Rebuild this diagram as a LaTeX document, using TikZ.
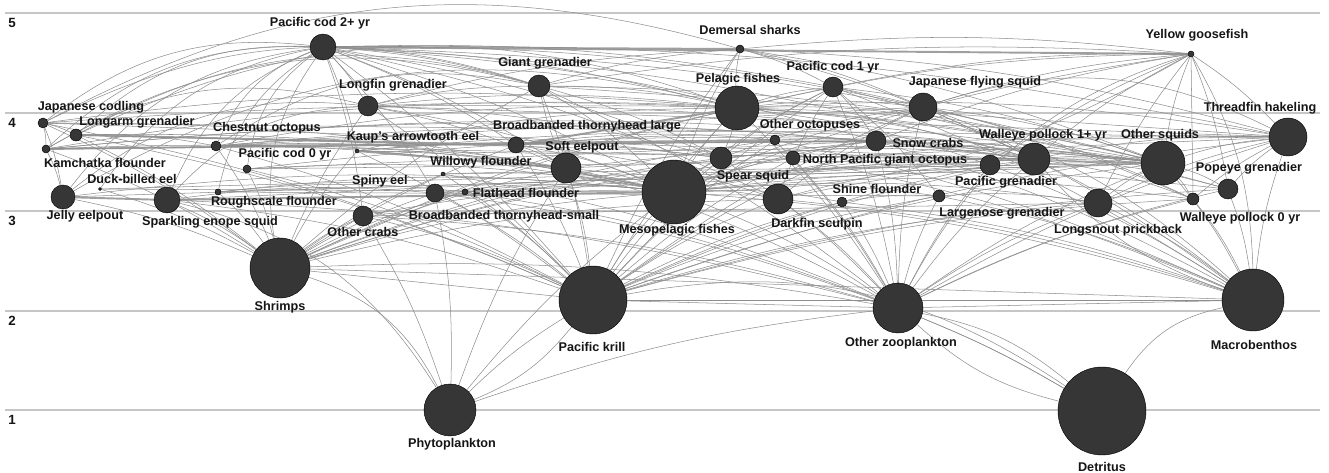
\documentclass[tikz,border=0pt]{standalone}
\usepackage{fontspec}
\setmainfont{Liberation Sans}
\pgfdeclarelayer{bg}
\pgfsetlayers{bg,main}
\definecolor{nodefill}{HTML}{363636}
\definecolor{edgec}{HTML}{8E8E8E}
\definecolor{gridc}{HTML}{C6C6C6}
\definecolor{txt}{HTML}{151515}
\tikzset{
  nd/.style={circle,fill=nodefill,draw=black,line width=0.25pt,inner sep=0pt},
  lb/.style={inner sep=0pt,text=txt,font=\fontsize{7.2}{8.6}\selectfont\bfseries},
  edge/.style={draw=edgec,line width=0.3pt},
  band/.style={draw=edgec!85,line width=1.1pt},
  gridline/.style={draw=gridc,line width=0.8pt},
}
\begin{document}
\begin{tikzpicture}[x=0.02cm,y=-0.02cm]
\useasboundingbox (0,0) rectangle (1329,473);
% nodes
\foreach \n/\x/\y/\r in {
 cod2/323/47/13, shark/740/49/4, goose/1191/54/3, giant/539/86/11, cod1/833/87/10,
 longfin/368/106/10, pelagic/737/108/22, jfsquid/923/107/14, jcod/43/123/5,
 longarm/76/135/6, thread/1288/137/19, chest/216/146/5, bbl/516/145/8,
 ooct/775/140/5, snow/876/141/10, kamch/46/149/4, kaup/357/151/2, npgo/793/158/7,
 spear/721/158/11, wp1/1034/159/16, osq/1163/163/22, pgren/990/165/10,
 soft/566/168/15, pcod0/247/169/4, willowy/443/174/2, popeye/1228/189/10,
 duck/100/189/1.5, rough/218/192/3, flat/465/192/3, bbs/435/193/9,
 meso/674/192/32, largen/939/196/6, jelly/63/197/12, sparkling/167/200/13,
 dark/778/199/15, wp0/1193/199/6, shine/842/202/5, longsnout/1098/203/14,
 crabs/363/216/10, shrimps/280/268/30, krill/593/300/34, ozoo/898/308/25,
 macro/1253/300/31, phyto/450/410/26, detritus/1102/411/44}
 \node[nd,minimum size=\r*0.4mm] (\n) at (\x,\y) {};
% labels
\foreach \n/\x/\y/\t in {
 cod2/320/23/Pacific cod 2+ yr, shark/750/30/Demersal sharks, goose/1197/35/Yellow goosefish,
 giant/545/63/Giant grenadier, cod1/833/67/Pacific cod 1 yr, longfin/393/85/Longfin grenadier,
 pelagic/738/79/Pelagic fishes, jfsquid/975/82/Japanese flying squid, jcod/91/107/Japanese codling,
 longarm/137/122/Longarm grenadier, thread/1260/108/Threadfin hakeling, chest/267/128/Chestnut octopus,
 kaup/413/137/Kaup's arrowtooth eel, bbl/587/126/Broadbanded thornyhead large,
 ooct/810/125/Other octopuses, snow/928/143/Snow crabs, wp1/1043/135/Walleye pollock 1+ yr,
 osq/1160/135/Other squids, kamch/105/163/Kamchatka flounder, pcod0/285/154/Pacific cod 0 yr,
 soft/582/147/Soft eelpout, npgo/885/160/North Pacific giant octopus, willowy/481/162/Willowy flounder,
 spear/753/176/Spear squid, pgren/1006/182/Pacific grenadier, popeye/1249/168/Popeye grenadier,
 duck/132/179/Duck-billed eel, spiny/380/181/Spiny eel, shine/877/189/Shine flounder,
 rough/274/202/Roughscale flounder, flat/526/193/Flathead flounder, largen/1002/213/Largenose grenadier,
 bbs/504/216/Broadbanded thornyhead-small, wp0/1240/218/Walleye pollock 0 yr, jelly/85/216/Jelly eelpout,
 sparkling/210/222/Sparkling enope squid, dark/817/224/Darkfin sculpin, meso/677/230/Mesopelagic fishes,
 longsnout/1118/230/Longsnout prickback, crabs/363/232/Other crabs, shrimps/280/307/Shrimps,
 krill/592/347/Pacific krill, ozoo/901/343/Other zooplankton, macro/1254/345/Macrobenthos,
 phyto/452/444/Phytoplankton, detritus/1102/467/Detritus}
 \node[lb] (L\n) at (\x,\y) {\t};
% trophic level axis
\foreach \v/\y in {5/13,4/113,3/211,2/311,1/410}
 \node[lb,font=\fontsize{7.6}{9}\selectfont\bfseries] (T\v) at (12,\y+10) {\v};
\begin{pgfonlayer}{bg}
\foreach \v/\y in {5/13,4/113,3/211,2/311,1/410}
 \draw[gridline] (5,\y) coordinate (G\v a) -- (1320,\y) coordinate (G\v b);
% thick bands
\foreach \a/\b in {cod2/goose, kamch/ooct, sparkling/meso, chest/snow, jelly/sparkling, cod2/shark, bbl/pelagic, kaup/soft, longarm/bbl}
 \draw[band] (\a) -- (\b);
% straight lines
\foreach \a/\b in {shrimps/krill, shrimps/macro, krill/ozoo, krill/macro, ozoo/macro, duck/meso, jcod/wp1, longarm/osq, goose/wp0,
 jcod/thread, kamch/thread, chest/osq, pcod0/wp1, jelly/osq, sparkling/wp1, rough/osq, duck/pgren, kaup/wp1, longfin/thread,
 giant/thread, willowy/osq, flat/wp1, bbs/osq, soft/thread, crabs/longsnout, rough/largen, pcod0/snow, chest/jfsquid}
 \draw[edge] (\a) -- (\b);
% general edges, gentle bend
\foreach \a/\b in {
 jcod/shrimps, longarm/shrimps, kamch/shrimps, jelly/shrimps, sparkling/shrimps, duck/shrimps,
 chest/shrimps, rough/shrimps, pcod0/shrimps,
 shrimps/crabs, shrimps/kaup, shrimps/longfin, shrimps/bbs, shrimps/flat, shrimps/willowy,
 shrimps/soft, shrimps/bbl, shrimps/giant, shrimps/meso, shrimps/pelagic, shrimps/dark, shrimps/spear,
 shrimps/cod1, shrimps/npgo, shrimps/ooct, shrimps/snow, shrimps/ozoo,
 cod2/krill, longfin/krill, kaup/krill, pcod0/krill, chest/krill, sparkling/krill, bbs/krill,
 flat/krill, willowy/krill, bbl/krill, giant/krill, soft/krill, crabs/krill, jcod/krill, longarm/krill,
 krill/meso, krill/pelagic, krill/spear, krill/dark, krill/shark, krill/cod1, krill/ooct, krill/npgo,
 krill/shine, krill/snow, krill/jfsquid, krill/largen, krill/pgren, krill/wp1, krill/longsnout,
 krill/osq, krill/wp0, krill/popeye, krill/thread,
 meso/ozoo, pelagic/ozoo, spear/ozoo, dark/ozoo, cod1/ozoo, ooct/ozoo, npgo/ozoo, shine/ozoo,
 snow/ozoo, soft/ozoo, bbs/ozoo, flat/ozoo, sparkling/ozoo, crabs/ozoo, giant/ozoo, willowy/ozoo,
 ozoo/jfsquid, ozoo/largen, ozoo/pgren, ozoo/wp1, ozoo/longsnout, ozoo/osq, ozoo/wp0, ozoo/popeye, ozoo/thread,
 wp0/macro, osq/macro, longsnout/macro, wp1/macro, pgren/macro, largen/macro, shine/macro, snow/macro,
 npgo/macro, dark/macro, jfsquid/macro, ooct/macro, meso/macro, cod1/macro, popeye/macro, macro/thread,
 crabs/phyto, bbs/phyto, phyto/soft, phyto/meso, phyto/krill, phyto/ozoo,
 cod2/pelagic, cod2/meso, cod2/giant, cod2/cod1, cod2/jfsquid, cod2/wp1, cod2/osq, cod2/spear,
 cod2/soft, cod2/bbl, cod2/dark, cod2/snow, cod2/longfin, cod2/crabs, cod2/kaup, cod2/bbs,
 giant/shark, longfin/shark, shark/cod1, shark/jfsquid, shark/osq, pelagic/shark, meso/shark,
 shark/wp1, shark/goose, shark/thread,
 cod1/goose, jfsquid/goose, wp1/goose, pgren/goose, goose/thread, osq/goose, longsnout/goose,
 giant/goose, pelagic/goose, meso/goose, goose/popeye, snow/goose,
 giant/meso, giant/pelagic, giant/spear, giant/osq, longfin/giant, soft/giant,
 pelagic/cod1, meso/cod1, spear/cod1, dark/cod1, cod1/wp1, cod1/snow, cod1/osq, cod1/wp0, cod1/largen,
 longfin/meso, longfin/pelagic, longfin/soft, longfin/spear, longfin/osq,
 meso/jfsquid, pelagic/jfsquid, jfsquid/wp1, jfsquid/osq, jfsquid/wp0, spear/jfsquid, dark/jfsquid,
 meso/thread, osq/thread, wp1/thread, pelagic/thread, popeye/thread, wp0/thread, longsnout/thread,
 jcod/longarm, jcod/kamch, jcod/jelly, jcod/meso, jcod/osq, jcod/pelagic,
 longarm/meso, longarm/chest, kamch/meso, kamch/pelagic, kamch/jelly, kamch/wp1, kamch/osq,
 chest/meso, chest/soft, chest/pelagic, chest/spear, kaup/meso, kaup/pelagic, kaup/spear,
 bbl/meso, bbl/soft, bbl/ooct, bbl/dark, sparkling/bbs, jelly/meso, rough/meso, rough/flat,
 flat/meso, willowy/meso, bbs/meso, soft/meso, crabs/meso,
 meso/dark, meso/spear, meso/pelagic, meso/npgo, meso/shine, meso/largen, meso/pgren, meso/wp1,
 meso/longsnout, meso/osq, meso/popeye, meso/wp0, meso/snow,
 pelagic/wp1, pelagic/osq, pelagic/popeye, pelagic/pgren, pelagic/spear,
 wp1/osq, wp1/popeye, wp1/wp0, pgren/osq, largen/longsnout, shine/largen, dark/pgren, snow/wp1,
 npgo/snow, spear/osq, dark/osq, osq/popeye, osq/wp0, longsnout/osq,
 pcod0/meso, pcod0/osq, chest/wp1, kaup/osq, bbl/wp1, soft/osq, spear/wp1, ooct/wp1, cod2/thread}
 \draw[edge] (\a) to[bend left=6] (\b);
% stronger arcs
\foreach \a/\b in {
 jcod/cod2, longarm/cod2, kamch/cod2, jelly/cod2, sparkling/cod2, chest/cod2, pcod0/cod2,
 rough/cod2, duck/cod2, jcod/giant, kamch/longfin, jelly/longfin, sparkling/longfin,
 shrimps/phyto, sparkling/phyto, krill/detritus, detritus/macro, shrimps/cod2, ozoo/goose,
 jelly/pelagic, jcod/shark, longarm/giant, pelagic/macro, jfsquid/thread,
 kamch/giant, longarm/pelagic, chest/giant}
 \draw[edge] (\a) to[bend left=22] (\b);
\foreach \a/\b in {ozoo/detritus, macro/goose, phyto/krill, detritus/ozoo, meso/goose, wp1/macro}
 \draw[edge] (\a) to[bend right=14] (\b);
\foreach \a/\b in {ozoo/detritus, ozoo/detritus}
 \draw[edge] (\a) to[bend left=4] (\b);
\end{pgfonlayer}
\end{tikzpicture}
\end{document}
